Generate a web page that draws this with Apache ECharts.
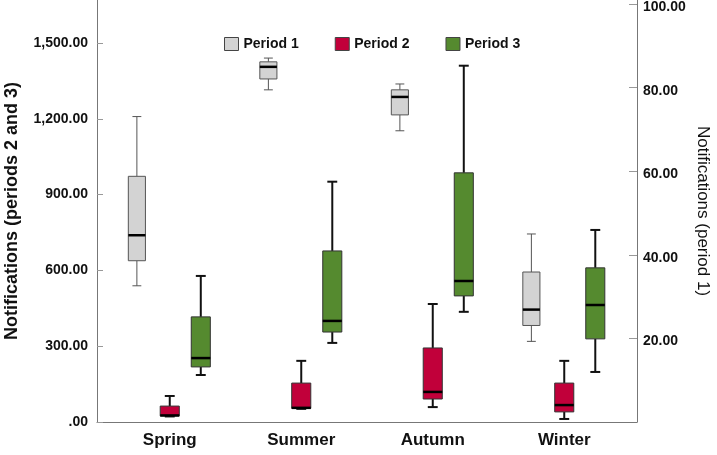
<!DOCTYPE html>
<html>
<head>
<meta charset="utf-8">
<script src="https://cdn.jsdelivr.net/npm/echarts@6/dist/echarts.min.js"></script>
<style>
  html, body { margin: 0; padding: 0; background: #fff; }
  #chart { width: 717px; height: 455px; }
</style>
</head>
<body>
<div id="chart"></div>
<script>
// seasons on the x axis
const categories = ["Spring", "Summer", "Autumn", "Winter"];
// [min, Q1, median, Q3, max] per season
const period1 = [
  [32.6, 38.6, 44.7, 58.8, 73.1],
  [79.5, 82.1, 85.0, 86.2, 87.1],
  [69.7, 73.5, 77.8, 79.5, 80.9],
  [19.3, 23.1, 26.9, 35.9, 45.0]
];
const period2 = [
  [22, 24, 26, 63, 103],
  [52, 54, 56, 154, 242],
  [59, 91, 119, 293, 467],
  [12, 40, 67, 154, 242]
];
const period3 = [
  [186, 218, 253, 416, 578],
  [313, 356, 400, 677, 951],
  [436, 499, 558, 986, 1410],
  [198, 329, 463, 610, 760]
];
const seriesNames = ["Period 1", "Period 2", "Period 3"];
// tick values shown on the two y axes
const leftTicks = [0, 300, 600, 900, 1200, 1500];
const rightTicks = [20, 40, 60, 80, 100];

const FONT = "Liberation Sans";

function boxRenderer(offset, widthFrac, whiskerColor, whiskerWidth, borderColor) {
  return function (params, api) {
    const i = api.value(0);
    const band = api.size([1, 0])[0];
    const cx = api.coord([i, 0])[0] + band * offset;
    const w = band * widthFrac;
    const capW = w * 0.52;
    const y = k => api.coord([i, api.value(k)])[1];
    const yMin = y(1), yQ1 = y(2), yMed = y(3), yQ3 = y(4), yMax = y(5);
    const wStyle = { stroke: whiskerColor, lineWidth: whiskerWidth };
    return {
      type: "group",
      children: [
        { type: "line", shape: { x1: cx, y1: yQ3, x2: cx, y2: yMax }, style: wStyle },
        { type: "line", shape: { x1: cx, y1: yQ1, x2: cx, y2: yMin }, style: wStyle },
        { type: "line", shape: { x1: cx - capW / 2, y1: yMax, x2: cx + capW / 2, y2: yMax }, style: wStyle },
        { type: "line", shape: { x1: cx - capW / 2, y1: yMin, x2: cx + capW / 2, y2: yMin }, style: wStyle },
        {
          type: "rect",
          shape: { x: cx - w / 2, y: yQ3, width: w, height: yQ1 - yQ3 },
          style: { fill: api.visual("color"), stroke: borderColor, lineWidth: 1 }
        },
        { type: "line", shape: { x1: cx - w / 2, y1: yMed, x2: cx + w / 2, y2: yMed }, style: { stroke: "#000", lineWidth: 2.5 } }
      ]
    };
  };
}

// bare axis that only carries a title, placed on the outer frame
function titleAxis(position, name, gap, rotate, style) {
  return {
    type: "value",
    gridIndex: 1,
    position: position,
    name: name,
    nameLocation: "middle",
    nameGap: gap,
    nameRotate: rotate,
    nameTextStyle: Object.assign({ fontFamily: FONT, color: "#111" }, style),
    axisLine: { show: false },
    axisTick: { show: false },
    axisLabel: { show: false },
    splitLine: { show: false }
  };
}

const chart = echarts.init(document.getElementById("chart"));
chart.setOption({
  animation: false,
  textStyle: { fontFamily: FONT },
  legend: {
    data: seriesNames,
    left: 219,
    top: 32,
    itemWidth: 14,
    itemHeight: 13,
    itemGap: 36,
    icon: "rect",
    itemStyle: { borderColor: "#444", borderWidth: 1 },
    textStyle: { fontFamily: FONT, fontWeight: "bold", fontSize: 14, color: "#111" }
  },
  grid: [
    { left: 104, right: 87, top: 0, bottom: 33, outerBoundsMode: "none", containLabel: false },
    { left: 97, right: 80, top: 0, bottom: 33, outerBoundsMode: "none", containLabel: false }
  ],
  xAxis: [
    {
      type: "category",
      gridIndex: 0,
      data: categories,
      axisLine: { show: false },
      axisTick: { show: false },
      axisLabel: { margin: 10, fontFamily: FONT, fontWeight: "bold", fontSize: 17, color: "#111" }
    },
    {
      type: "value",
      gridIndex: 1,
      axisLine: { show: true, lineStyle: { color: "#777", width: 1 } },
      axisTick: { show: false },
      axisLabel: { show: false },
      splitLine: { show: false }
    }
  ],
  yAxis: [
    {
      type: "value",
      gridIndex: 0,
      position: "left",
      offset: 7,
      min: 0,
      max: 1670,
      axisLine: { show: true, lineStyle: { color: "#777", width: 1 } },
      axisTick: { show: true, inside: true, length: 6, customValues: leftTicks, lineStyle: { color: "#999" } },
      splitLine: { show: false },
      axisLabel: {
        margin: 9,
        customValues: leftTicks,
        fontFamily: FONT,
        fontWeight: "bold",
        fontSize: 14,
        color: "#111",
        formatter: v => v === 0 ? ".00"
          : v.toLocaleString("en-US", { minimumFractionDigits: 2, maximumFractionDigits: 2 })
      }
    },
    {
      type: "value",
      gridIndex: 0,
      position: "right",
      offset: 7,
      min: 0,
      max: 101,
      axisLine: { show: true, lineStyle: { color: "#777", width: 1 } },
      axisTick: { show: true, inside: true, length: 8, customValues: rightTicks, lineStyle: { color: "#999" } },
      splitLine: { show: false },
      axisLabel: {
        margin: 6,
        verticalAlign: "top",
        lineHeight: 6,
        customValues: rightTicks,
        fontFamily: FONT,
        fontWeight: "bold",
        fontSize: 14,
        color: "#111",
        formatter: v => v.toFixed(2)
      }
    },
    titleAxis("left", "Notifications (periods 2 and 3)", 76, 90, { fontWeight: "bold", fontSize: 18 }),
    titleAxis("right", "Notifications (period 1)", 57, -90, { fontSize: 17 })
  ],
  series: [
    {
      name: seriesNames[0],
      type: "custom",
      xAxisIndex: 0,
      yAxisIndex: 1,
      itemStyle: { color: "#d3d3d3" },
      encode: { x: 0, y: [1, 2, 3, 4, 5] },
      renderItem: boxRenderer(-0.25, 0.13, "#555", 1, "#555"),
      data: period1.map((d, i) => [i].concat(d))
    },
    {
      name: seriesNames[1],
      type: "custom",
      xAxisIndex: 0,
      yAxisIndex: 0,
      itemStyle: { color: "#c1003a" },
      encode: { x: 0, y: [1, 2, 3, 4, 5] },
      renderItem: boxRenderer(0, 0.145, "#111", 2, "#333"),
      data: period2.map((d, i) => [i].concat(d))
    },
    {
      name: seriesNames[2],
      type: "custom",
      xAxisIndex: 0,
      yAxisIndex: 0,
      itemStyle: { color: "#558a2f" },
      encode: { x: 0, y: [1, 2, 3, 4, 5] },
      renderItem: boxRenderer(0.236, 0.145, "#111", 2, "#333"),
      data: period3.map((d, i) => [i].concat(d))
    }
  ]
});
</script>
</body>
</html>
